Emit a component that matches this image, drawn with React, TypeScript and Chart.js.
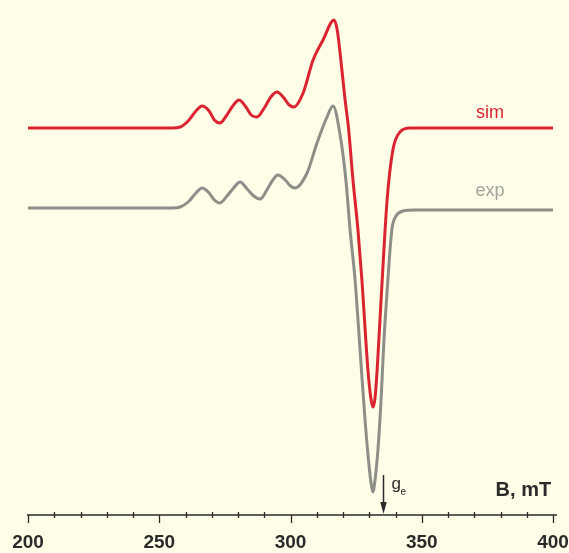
import { useEffect, useRef } from "react";
import { Chart, registerables } from "chart.js";

Chart.register(...registerables);

// Simulated EPR spectrum: field (mT) and first-derivative signal (a.u.)
const fieldSim = [
  200, 220, 240, 255, 258, 261, 264, 266.3, 269, 271,
  273.1, 275.5, 278, 280.4, 283, 285, 287.2, 290, 292.5, 294.9,
  297.5, 299.5, 301.3, 304.8, 308.6, 312.4, 316.6, 317.8, 319.3, 320.8,
  322.1, 323.8, 325.7, 327.2, 329.5, 330.6, 331.4, 332.2, 333.0, 334.5,
  336.8, 339.0, 341.7, 345.5, 350, 370, 400,
];
const sim = [
  0, 0, 0, 0, 1, 7, 17, 22, 17, 8,
  5, 12, 22, 28, 21, 13, 11, 20, 31, 36,
  30, 23, 21, 35, 68, 88, 108, 98, 65, 28,
  0, -52, -102, -152, -242, -270, -279, -270, -242, -172,
  -72, -22, -4, 0, 0, 0, 0,
];

// Experimental EPR spectrum: field (mT) and first-derivative signal (a.u.)
const fieldExp = [
  200, 220, 240, 255, 258, 261, 264, 266.3, 269, 271,
  273.1, 275.5, 278, 280.8, 283.5, 286, 288.4, 291, 293, 295.2,
  298, 300, 301.7, 306.3, 310.1, 313.9, 316.2, 318.9, 321.1, 322.7,
  324.6, 326.5, 328.4, 329.9, 330.8, 331.4, 332.2, 333.3, 334.5, 335.6,
  337.1, 337.9, 338.7, 340.2, 342.9, 347.4, 360, 380, 400,
];
const exp = [
  0, 0, 0, 0, 1, 6, 15, 20, 15, 8,
  5, 11, 19, 26, 19, 12, 9, 18, 27, 33,
  28, 22, 20, 35, 65, 91, 102, 73, 28, -22,
  -72, -142, -212, -257, -277, -284, -272, -242, -192, -132,
  -72, -42, -20, -8, -3, -2, -2, -2, -2,
];

const seriesNames = ["sim", "exp"];
const axisTitle = "B, mT";
const fieldTicks = [200, 250, 300, 350, 400];
const minorStep = 10;
const geField = 335.1; // free-electron g value position

// vertical stacking of the two traces
const SIM_OFFSET = 0;
const EXP_OFFSET = -80;

const BG = "#fefde7";
const RED = "#da2530";
const GREY = "#8e8e88";
const INK = "#2a2a2a";
const FONT = "'Liberation Sans', Arial, Helvetica, sans-serif";

const decor = {
  id: "decor",
  beforeDraw(chart: any) {
    const { ctx, width, height } = chart;
    ctx.save();
    ctx.fillStyle = BG;
    ctx.fillRect(0, 0, width, height);
    ctx.restore();
  },
  afterDraw(chart: any) {
    const { ctx, chartArea } = chart;
    const xs = chart.scales.x;
    const ys = chart.scales.y;
    const axisY = chartArea.bottom;
    const lo = fieldTicks[0];
    const hi = fieldTicks[fieldTicks.length - 1];

    ctx.save();
    // axis line
    ctx.strokeStyle = INK;
    ctx.lineWidth = 1.6;
    ctx.beginPath();
    ctx.moveTo(xs.getPixelForValue(lo) - 1, axisY);
    ctx.lineTo(xs.getPixelForValue(hi) + 4, axisY);
    ctx.stroke();

    // major and minor tick marks
    ctx.lineWidth = 1.3;
    for (let v = lo; v <= hi; v += minorStep) {
      const px = Math.round(xs.getPixelForValue(v)) + 0.5;
      const major = fieldTicks.includes(v);
      ctx.beginPath();
      if (major) {
        ctx.moveTo(px, axisY);
        ctx.lineTo(px, axisY + 8);
      } else {
        ctx.moveTo(px, axisY - 3);
        ctx.lineTo(px, axisY + 3);
      }
      ctx.stroke();
    }

    // series labels
    const labelX = xs.getPixelForValue(376);
    ctx.textAlign = "center";
    ctx.textBaseline = "alphabetic";
    ctx.font = `18px ${FONT}`;
    ctx.fillStyle = RED;
    ctx.fillText(seriesNames[0], labelX, ys.getPixelForValue(SIM_OFFSET + 10));
    ctx.fillStyle = "#a3a39d";
    ctx.fillText(seriesNames[1], labelX, ys.getPixelForValue(EXP_OFFSET + 12));

    // axis title
    ctx.textAlign = "right";
    ctx.font = `bold 20px ${FONT}`;
    ctx.fillStyle = INK;
    ctx.fillText(axisTitle, xs.getPixelForValue(399.3), axisY - 19);

    // g_e marker arrow
    const gx = Math.round(xs.getPixelForValue(geField)) + 0.5;
    ctx.strokeStyle = INK;
    ctx.lineWidth = 1.5;
    ctx.beginPath();
    ctx.moveTo(gx, axisY - 40);
    ctx.lineTo(gx, axisY - 10);
    ctx.stroke();
    ctx.fillStyle = INK;
    ctx.beginPath();
    ctx.moveTo(gx, axisY - 1);
    ctx.lineTo(gx - 3.2, axisY - 13);
    ctx.lineTo(gx + 3.2, axisY - 13);
    ctx.closePath();
    ctx.fill();

    ctx.textAlign = "left";
    ctx.font = `17px ${FONT}`;
    ctx.fillText("g", gx + 8, axisY - 26);
    ctx.font = `10px ${FONT}`;
    ctx.fillText("e", gx + 17, axisY - 20);
    ctx.restore();
  },
};

export default function App() {
  const canvasRef = useRef<HTMLCanvasElement | null>(null);

  useEffect(() => {
    document.body.style.margin = "0";
    document.body.style.background = BG;
    const canvas = canvasRef.current;
    if (!canvas) return;

    const simPoints = fieldSim.map((x, i) => ({ x, y: sim[i] + SIM_OFFSET }));
    const expPoints = fieldExp.map((x, i) => ({ x, y: exp[i] + EXP_OFFSET }));

    const chart = new Chart(canvas, {
      type: "line",
      data: {
        datasets: [
          {
            label: seriesNames[1],
            data: expPoints,
            borderColor: GREY,
            borderWidth: 3,
            pointRadius: 0,
            cubicInterpolationMode: "monotone",
            borderJoinStyle: "round",
            borderCapStyle: "round",
          },
          {
            label: seriesNames[0],
            data: simPoints,
            borderColor: RED,
            borderWidth: 3,
            pointRadius: 0,
            cubicInterpolationMode: "monotone",
            borderJoinStyle: "round",
            borderCapStyle: "round",
          },
        ],
      },
      options: {
        animation: false,
        responsive: true,
        maintainAspectRatio: false,
        layout: { padding: { left: 28, right: 16, top: 0, bottom: 0 } },
        plugins: {
          legend: { display: false },
          tooltip: { enabled: false },
        },
        scales: {
          x: {
            type: "linear",
            min: fieldTicks[0],
            max: fieldTicks[fieldTicks.length - 1],
            grid: { display: true, drawOnChartArea: false, drawTicks: false },
            border: { display: false },
            ticks: {
              stepSize: 50,
              autoSkip: false,
              maxRotation: 0,
              padding: 18,
              color: INK,
              font: { family: FONT, size: 19, weight: "bold", lineHeight: 1 },
            },
            afterFit: (scale: any) => {
              scale.height = 38;
              scale.paddingLeft = 0;
              scale.paddingRight = 0;
            },
          },
          y: {
            display: false,
            min: -387,
            max: 128,
          },
        },
      },
      plugins: [decor],
    });

    return () => chart.destroy();
  }, []);

  return (
    <div style={{ width: 569, height: 553, background: BG, position: "relative" }}>
      <canvas ref={canvasRef} />
    </div>
  );
}
